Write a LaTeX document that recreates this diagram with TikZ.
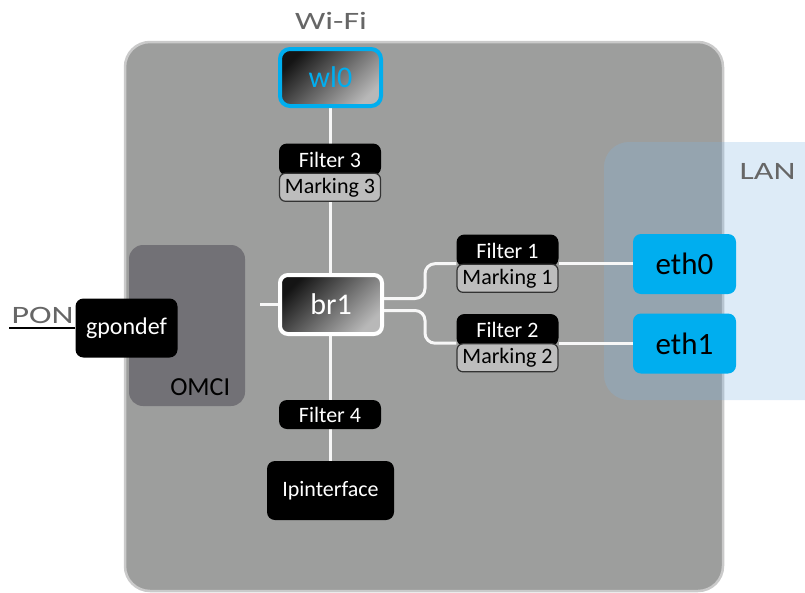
\documentclass[tikz,border=0pt]{standalone}
\usepackage{fontspec}
\setmainfont{Carlito}
\newfontfamily\widesans[FakeStretch=1.36]{Carlito}
\usetikzlibrary{positioning,calc}
\definecolor{cyanbl}{HTML}{00AEEF}
\definecolor{devgray}{HTML}{9D9E9D}
\definecolor{devedge}{HTML}{CACACA}
\definecolor{omcigray}{HTML}{727176}
\definecolor{lanblue}{HTML}{82B5E2}
\definecolor{markgray}{HTML}{BDBDBD}
\definecolor{labelgray}{HTML}{666666}
\pgfdeclarelayer{back}
\pgfdeclarelayer{wires}
\pgfsetlayers{back,wires,main}
\tikzset{
  blk/.style={rounded corners=8pt,align=center,inner sep=0pt,fill=black,text=white,
              font=\fontsize{22}{26}\selectfont},
  iface/.style={blk,minimum width=102pt,minimum height=59pt},
  filt/.style={blk,minimum width=102pt,minimum height=32pt},
  markbox/.style={blk,fill=markgray,text=black,draw=black!80,line width=1.2pt,
              rounded corners=6pt,minimum width=101pt,minimum height=28pt},
  grad/.style={top color=black!92,bottom color=black!28,shading angle=45},
  bridge/.style={iface,grad,draw=white,line width=4pt,minimum width=102pt,
              font=\fontsize{30}{34}\selectfont},
  wifi/.style={bridge,draw=cyanbl,text=cyanbl,minimum width=101pt,minimum height=57pt,
              rounded corners=10pt,font=\fontsize{30}{34}\selectfont},
  eth/.style={iface,fill=cyanbl,text=black,minimum width=103pt,minimum height=60pt,
              font=\fontsize{31}{34}\selectfont},
  wire/.style={white!94!gray,line width=3pt},
  tag/.style={text=labelgray,inner sep=0pt,font=\widesans\fontsize{25}{30}\selectfont},
}
\begin{document}
\begin{tikzpicture}[x=1pt,y=-1pt]
  \useasboundingbox (0,0) rectangle (805,592);
  \clip (0,0) rectangle (805,592);

  % housing, OMCI and LAN areas
  \begin{pgfonlayer}{back}
    \draw[fill=devgray,draw=devedge,line width=2.5pt,rounded corners=25pt] (125,42) rectangle (723,591);
    \node[fill=omcigray,rounded corners=14pt,minimum width=116pt,minimum height=161pt,inner sep=0pt]
         (omci) at (187,325.5) {};
    \fill[lanblue,opacity=.27,rounded corners=25pt] (604,142) rectangle (840,400);
  \end{pgfonlayer}
  \node[inner sep=0pt,font=\fontsize{26}{30}\selectfont] (omcilbl) at ($(omci.south east)+(-45,-19)$) {OMCI};
  \node[tag] (lanlbl) at (767.5,171) {LAN};
  \node[tag] (wifilbl) at (331,21) {Wi-Fi};

  \node[wifi] (wl0) at (330.5,77.5) {wl0};
  \node[filt] (filt3) at (330,159.5) {Filter 3};
  \node[markbox,below=-3pt of filt3] (mark3) {Marking 3};

  \node[bridge] (br1) at (331,304.5) {br1};
  \node[iface,font=\fontsize{24}{28}\selectfont] (gpon) at (126.5,328) {gpondef};

  \node[filt] (filt1) at (507.5,250.5) {Filter 1};
  \node[markbox,below=-3pt of filt1] (mark1) {Marking 1};
  \node[filt] (filt2) at (507.5,330) {Filter 2};
  \node[markbox,below=-3pt of filt2] (mark2) {Marking 2};

  \node[eth] (eth0) at (684.5,264) {eth0};
  \node[eth] (eth1) at (684.5,343.5) {eth1};

  \node[filt,minimum height=29pt] (filt4) at (330,414.5) {Filter 4};
  \node[iface,minimum width=127pt] (ipif) at (330.5,490.5) {Ipinterface};

  \coordinate (brup) at ($(br1.east)+(0,-6)$);
  \coordinate (brdn) at ($(br1.east)+(0,6)$);
  \coordinate (ponend) at ($(gpon.west)+(-66,0)$);

  \begin{pgfonlayer}{wires}
    \draw[wire] (wl0) -- (ipif);
    \draw[wire] (br1.west) -- ++(-18,0);
    \draw[wire,rounded corners=10pt] (brup) -- ++(41,0) |- (mark1.north west);
    \draw[wire,rounded corners=10pt] (brdn) -- ++(41,0) |- (mark2.north west);
    \draw[wire] (mark1.north east) -- (eth0.west|-mark1.north east);
    \draw[wire] (mark2.north east) -- (eth1.west|-mark2.north east);
    \draw[black,line width=2.5pt] (gpon.west) -- (ponend);
  \end{pgfonlayer}
  \node[tag,anchor=base west] (ponlbl) at ($(ponend)+(2,-5)$) {PON};
\end{tikzpicture}
\end{document}
